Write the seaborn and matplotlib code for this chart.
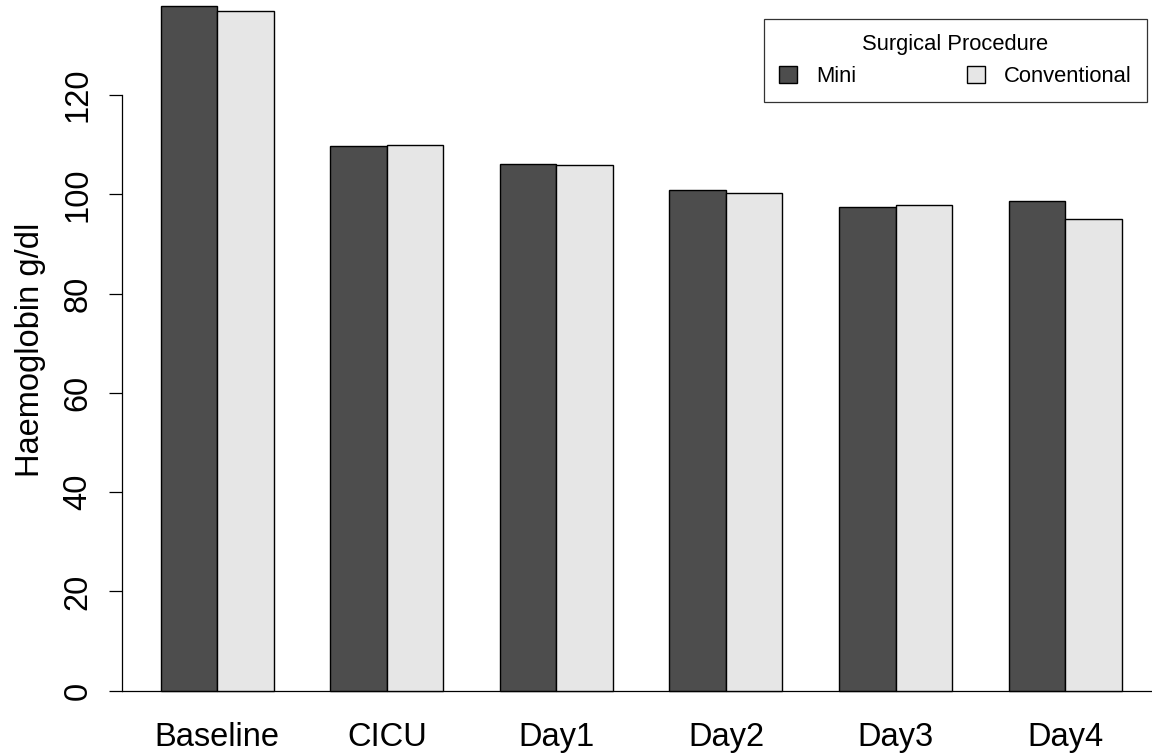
# Haemoglobin by time point, mini vs conventional surgery (grouped bars)

import pandas as pd
import matplotlib
matplotlib.use('Agg')
import matplotlib.pyplot as plt
import seaborn as sns

# values

timepoints = ['Baseline', 'CICU', 'Day1', 'Day2', 'Day3', 'Day4']
mini = [137.9, 109.7, 106.2, 100.9, 97.4, 98.6]
conventional = [137.0, 109.9, 106.0, 100.3, 97.9, 95.0]
procedures = ['Mini', 'Conventional']
yticks = [0, 20, 40, 60, 80, 100, 120]

# long table for seaborn

df = pd.DataFrame({
    'Time': timepoints * 2,
    'Procedure': ['Mini'] * len(timepoints) + ['Conventional'] * len(timepoints),
    'Hb': mini + conventional,
})

plt.rcParams['font.family'] = ['Liberation Sans', 'DejaVu Sans']

fig = plt.figure(figsize=(11.52, 7.56), dpi=100)
ax = fig.add_axes([122 / 1152, 38 / 756, 1030 / 1152, 718 / 756])

sns.barplot(data=df, x='Time', y='Hb', hue='Procedure', order=timepoints,
            hue_order=procedures, palette=['#4d4d4d', '#e6e6e6'],
            width=2 / 3, errorbar=None, edgecolor='black', linewidth=1.0,
            ax=ax)

ax.set_xlim(-0.561, 5.512)
ax.set_ylim(-5.5, 139.14)

# R-like axes: only a left axis from 0 to 120 and a line at zero
for side in ['top', 'right', 'bottom']:
    ax.spines[side].set_visible(False)
ax.spines['left'].set_bounds(0, 120)
ax.spines['left'].set_linewidth(0.9)
ax.axhline(0, color='black', linewidth=0.9, zorder=0)

ax.set_yticks(yticks)
ax.set_yticklabels([str(t) for t in yticks], rotation=90, va='center')
ax.tick_params(axis='y', length=9.5, width=0.9, pad=11, labelsize=23.5)
ax.tick_params(axis='x', length=0, pad=3, labelsize=23.5)

ax.set_xlabel('')
ax.set_ylabel('Haemoglobin g/dl', fontsize=23.5)
ax.yaxis.set_label_coords(-0.074, 0.5125)

# legend box in the top right corner
handles, labels = ax.get_legend_handles_labels()
ax.legend_.remove()
leg = fig.legend(handles, labels, title='Surgical Procedure', ncol=2,
                 loc='upper right', bbox_to_anchor=(1147 / 1152, 1 - 19 / 756),
                 bbox_transform=fig.transFigure, borderaxespad=0,
                 fontsize=15.8, title_fontsize=15.8, frameon=True,
                 fancybox=False, shadow=False, edgecolor='black',
                 handlelength=0.82, handleheight=0.82, handletextpad=0.9,
                 columnspacing=5.0, borderpad=0.68)
leg.get_frame().set_linewidth(0.9)

plt.savefig('out.png', dpi=100)
